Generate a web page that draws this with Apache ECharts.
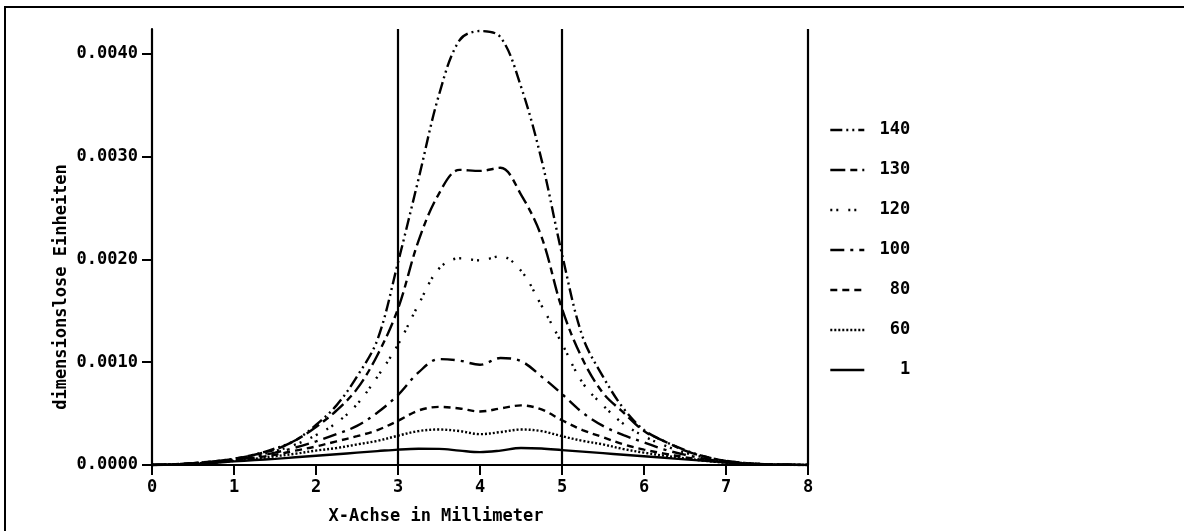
<!DOCTYPE html>
<html>
<head>
<meta charset="utf-8">
<script src="https://cdn.jsdelivr.net/npm/echarts@6/dist/echarts.min.js"></script>
<style>
html,body{margin:0;padding:0;background:#fff;}
#chart{width:1184px;height:531px;}
</style>
</head>
<body>
<div id="chart"></div>
<script>
const xs = [0,0.25,0.5,0.75,1,1.25,1.5,1.75,2,2.25,2.5,2.75,3,3.25,3.5,3.75,4,4.25,4.5,4.75,5,5.25,5.5,5.75,6,6.25,6.5,6.75,7,7.25,7.5,7.75,8];

const s140 = [0,0.000006,0.000018,0.000035,0.00006,0.0001,0.00016,0.00024,0.00039,0.00058,0.00086,0.00122,0.00197,0.00278,0.0036,0.00413,0.00422,0.00416,0.00368,0.00297,0.00205,0.00125,0.00086,0.00055,0.00034,0.00023,0.000145,0.00008,0.00004,0.000018,0.000008,0.000003,0];
const s130 = [0,0.000006,0.000018,0.000035,0.00006,0.0001,0.00015,0.00024,0.00037,0.00053,0.00074,0.00107,0.00152,0.00218,0.00264,0.00287,0.00286,0.00289,0.00263,0.00222,0.00152,0.00103,0.0007,0.00051,0.00033,0.00023,0.00014,0.00008,0.00004,0.000018,0.000008,0.000003,0];
const s120 = [0,0.000006,0.000017,0.000033,0.000055,0.000088,0.000135,0.0002,0.00029,0.00041,0.00059,0.00086,0.00117,0.00156,0.00191,0.00201,0.00199,0.00203,0.00189,0.00155,0.00118,0.0008,0.00058,0.0004,0.00028,0.00019,0.00012,0.00007,0.000035,0.000016,0.000007,0.000002,0];
const s100 = [0,0.000005,0.000015,0.00003,0.00005,0.00008,0.00012,0.00017,0.00023,0.0003,0.00038,0.00051,0.00068,0.0009,0.00103,0.001015,0.000975,0.00104,0.00101,0.00086,0.00069,0.00051,0.00038,0.00029,0.00022,0.00015,0.0001,0.00006,0.00003,0.000014,0.000006,0.000002,0];
const s80 = [0,0.000005,0.000013,0.000027,0.000045,0.00007,0.0001,0.00014,0.00018,0.00023,0.00028,0.00034,0.00043,0.00053,0.000565,0.00055,0.00052,0.00055,0.00058,0.00054,0.000435,0.00034,0.00027,0.0002,0.00015,0.00011,0.000075,0.000045,0.000025,0.000012,0.000005,0.000002,0];
const s60 = [0,0.000004,0.000012,0.000024,0.00004,0.00006,0.000085,0.00011,0.00014,0.000165,0.0002,0.000235,0.000285,0.00033,0.000345,0.00033,0.0003,0.00032,0.000345,0.00033,0.00028,0.000235,0.0002,0.000155,0.00012,0.00009,0.000065,0.00004,0.000022,0.00001,0.000004,0.000001,0];
const s1 = [0,0.000004,0.00001,0.00002,0.000035,0.000048,0.00006,0.000075,0.00009,0.000105,0.00012,0.000135,0.00015,0.000158,0.000157,0.00014,0.000125,0.00014,0.000165,0.00016,0.000145,0.00013,0.000115,0.0001,0.000085,0.00007,0.000055,0.00004,0.000025,0.000013,0.000005,0.000002,0];

const seriesNames = ['140','130','120','100','80','60','1'];
const seriesValues = [s140, s130, s120, s100, s80, s60, s1];
const yTicks = [0,0.001,0.002,0.003,0.004];
const markerX = [3,5,8];
const xAxisTitle = 'X-Achse in Millimeter';
const yAxisTitle = 'dimensionslose Einheiten';

const dashTypes = [
  [12,4,2,4,2,4],
  [15,5,7,5],
  [2,4,2,10],
  [14,6,3,6],
  [7,5],
  [2,2],
  'solid'
];

const FONT = '"DejaVu Sans Mono", "Liberation Mono", monospace';

const chart = echarts.init(document.getElementById('chart'), null, {renderer:'canvas'});

const series = seriesNames.map((name, i) => {
  const s = {
    name: name,
    type: 'line',
    data: xs.map((x, k) => [x, seriesValues[i][k]]),
    smooth: 0.35,
    symbol: 'none',
    lineStyle: {color:'#000', width: 2.4, type: dashTypes[i], cap: 'butt'},
    itemStyle: {color:'#000'},
    z: 3
  };
  if (i === 0) {
    s.markLine = {
      silent: true,
      symbol: ['none','none'],
      label: {show:false},
      lineStyle: {color:'#000', width:2.2, type:'solid'},
      data: markerX.map(v => ({xAxis: v})),
      animation: false
    };
  }
  return s;
});

const option = {
  animation: false,
  backgroundColor: '#fff',
  grid: {left: 152, right: 376, top: 29, bottom: 66, containLabel: false},
  xAxis: {
    type: 'value',
    min: 0, max: 8, interval: 1,
    axisLine: {show: true, lineStyle: {color:'#000', width: 2.2}},
    axisTick: {show: true, length: 10, inside: false, lineStyle: {color:'#000', width: 2}},
    axisLabel: {color:'#000', fontFamily: FONT, fontWeight:'bold', fontSize: 17, margin: 14},
    splitLine: {show: false}
  },
  yAxis: {
    type: 'value',
    min: 0, max: 0.00424,
    axisLine: {show: true, lineStyle: {color:'#000', width: 2.2}},
    axisTick: {show: true, length: 10, customValues: yTicks, lineStyle: {color:'#000', width: 2}},
    axisLabel: {color:'#000', fontFamily: FONT, fontWeight:'bold', fontSize: 17, margin: 14,
      customValues: yTicks, formatter: v => v.toFixed(4)},
    splitLine: {show: false}
  },
  legend: {
    orient: 'vertical',
    left: 829,
    top: 118,
    padding: 0,
    itemWidth: 34,
    itemHeight: 24,
    itemGap: 16,
    itemStyle: {opacity: 0},
    lineStyle: {width: 2.6},
    data: seriesNames,
    formatter: n => n.padStart(4, ' '),
    textStyle: {color:'#000', fontFamily: FONT, fontWeight:'bold', fontSize: 17, lineHeight: 24}
  },
  graphic: [
    {type:'rect', shape:{x:5, y:7, width:1400, height:800}, style:{fill:'none', stroke:'#000', lineWidth:2}, silent:true},
    {type:'text', x: 62, y: 287, rotation: Math.PI/2,
      style:{text: yAxisTitle, fill:'#000', font: 'bold 17px ' + FONT, align:'center', verticalAlign:'middle'}},
    {type:'text', x: 436, y: 517,
      style:{text: xAxisTitle, fill:'#000', font: 'bold 17px ' + FONT, align:'center', verticalAlign:'middle'}}
  ],
  series: series
};

chart.setOption(option);
</script>
</body>
</html>
